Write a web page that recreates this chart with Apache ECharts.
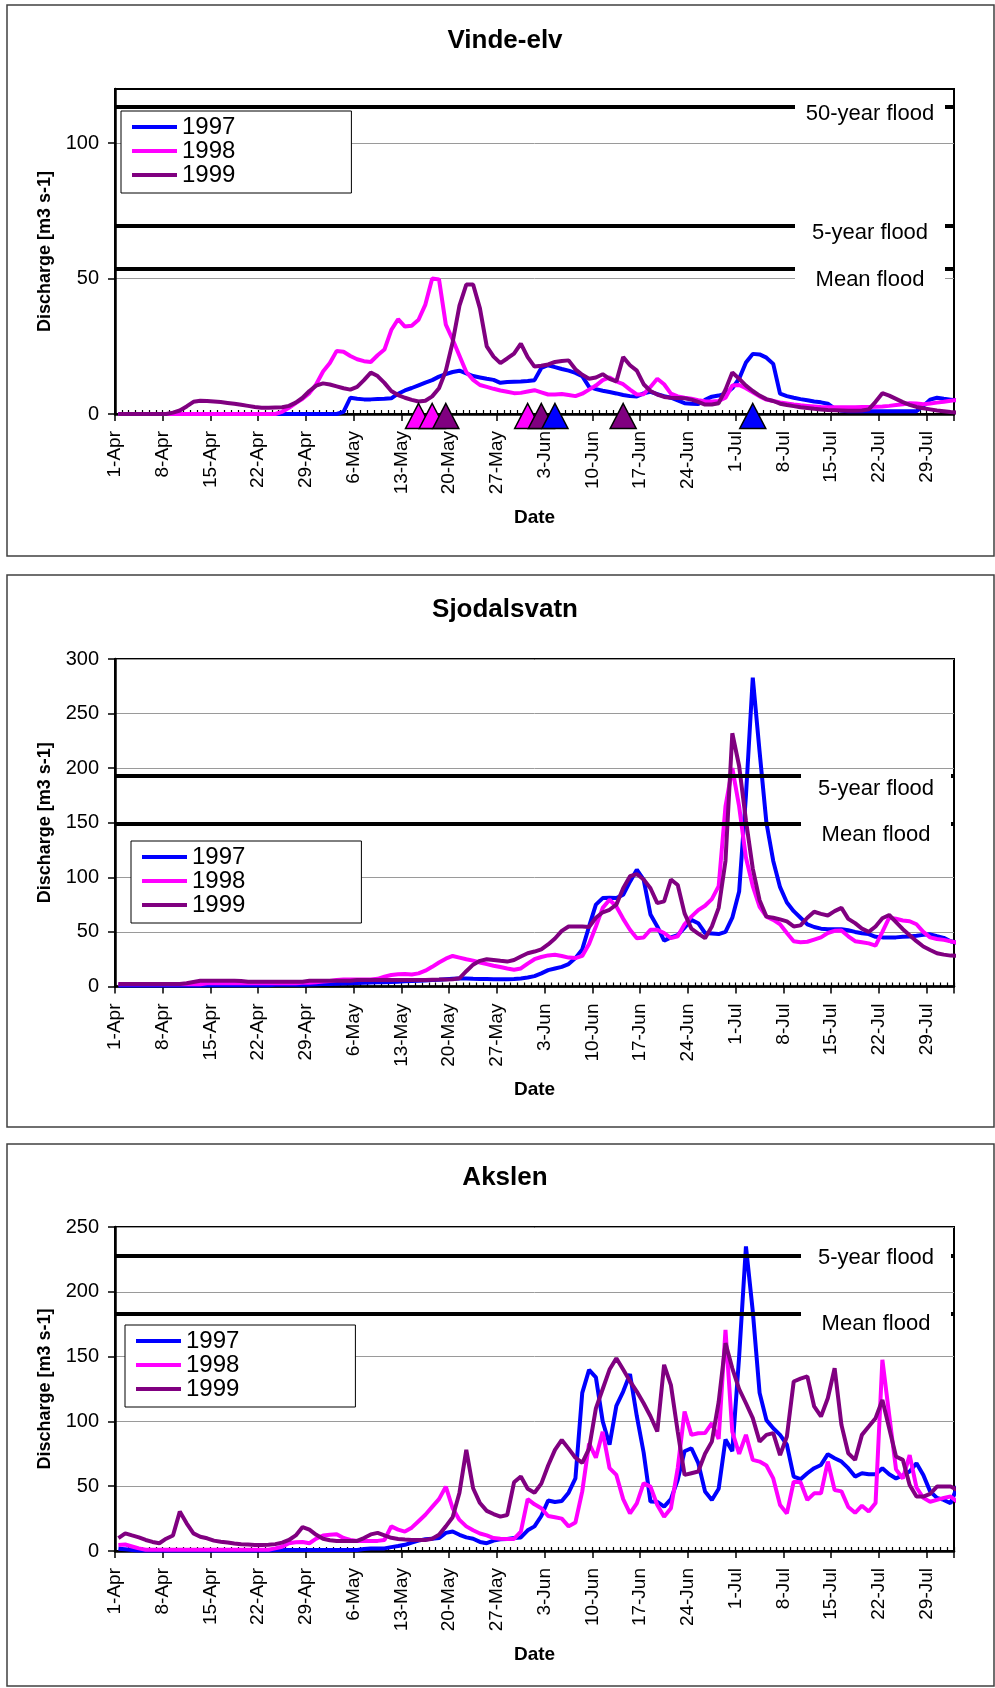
<!DOCTYPE html>
<html>
<head>
<meta charset="utf-8">
<title>Discharge 1997-1999</title>
<script src="https://cdn.jsdelivr.net/npm/echarts@6/dist/echarts.min.js"></script>
<style>
  html, body { margin: 0; padding: 0; background: #fff; }
  #chart { width: 995px; height: 1688px; }
</style>
</head>
<body>
<div id="chart"></div>
<script>
const FONT = '"Liberation Sans", Arial, sans-serif';

// weekly tick labels, one every 7 days from 1-Apr
const tickLabels = ['1-Apr', '8-Apr', '15-Apr', '22-Apr', '29-Apr', '6-May', '13-May', '20-May', '27-May',
  '3-Jun', '10-Jun', '17-Jun', '24-Jun', '1-Jul', '8-Jul', '15-Jul', '22-Jul', '29-Jul'];
const years = ['1997', '1998', '1999'];
const yearColors = ['#0000ff', '#ff00ff', '#800080'];

// daily mean discharge, index 0 = 1-Apr
const vindeQ1997 = [
  0, 0, 0, 0, 0, 0, 0, 0, 0, 0,
  0, 0, 0, 0, 0, 0, 0, 0, 0, 0,
  0, 0, 0, 0, 0, 0, 0, 0, 0, 0,
  0, 0, 0, 0.8, 6, 5.6, 5.4, 5.4, 5.5, 5.6,
  5.8, 7.5, 8.7, 9.6, 10.6, 11.6, 12.5, 13.8, 14.7, 15.5,
  16, 15, 14, 13.5, 13, 12.6, 11.5, 11.8, 11.9, 12,
  12.2, 12.5, 17, 18, 17.3, 16.6, 16, 15.2, 14, 10,
  9.2, 8.6, 8.1, 7.6, 7, 6.6, 6.5, 7.6, 8.2, 7.3,
  6.6, 6, 5, 4, 3.8, 3.7, 5.2, 6.4, 6.8, 7.5,
  9.5, 13, 19, 22.2, 22, 20.8, 18.5, 7.5, 6.6, 6,
  5.5, 5.1, 4.6, 4.3, 3.8, 2, 1.2, 1, 1, 1,
  1, 1, 1, 1, 1, 1, 1, 1, 3, 5.3,
  6, 5.6, 5.3, 5, 4.3
];
const vindeQ1998 = [
  0, 0, 0, 0, 0, 0, 0, 0, 0, 0,
  0, 0, 0, 0, 0, 0, 0, 0, 0, 0,
  0, 0, 0, 0, 0.8, 2.3, 4, 5.6, 7.7, 11,
  15.7, 18.8, 23.3, 23, 21.4, 20.2, 19.5, 19.2, 21.7, 23.8,
  31, 35, 32.3, 32.6, 34.8, 40.4, 50, 49.7, 33, 27.5,
  21.5, 15.5, 12.6, 10.7, 10, 9.3, 8.7, 8.2, 7.7, 7.8,
  8.3, 8.8, 8, 7.2, 7.2, 7.4, 7, 6.6, 7.5, 9,
  10.5, 12.5, 13.5, 12, 11, 9, 7.2, 7.3, 10, 13,
  11, 7.5, 6.5, 6, 5.6, 5.1, 4.7, 4.6, 4.8, 6,
  10.5, 10.7, 9.5, 8, 6.5, 5.3, 4.8, 4.3, 3.9, 3.5,
  3.2, 3, 2.8, 2.6, 2.5, 2.5, 2.5, 2.5, 2.5, 2.6,
  2.6, 2.7, 2.8, 3, 3.3, 3.6, 4, 3.9, 3.6, 3.9,
  4.2, 4.5, 4.9, 5.2, 4.4
];
const vindeQ1999 = [
  0, 0, 0, 0, 0, 0, 0, 0, 0.5, 1.3,
  2.8, 4.5, 4.9, 4.8, 4.6, 4.4, 4.1, 3.8, 3.4, 3,
  2.6, 2.3, 2.3, 2.4, 2.5, 3, 4.2, 6, 8.5, 10.5,
  11.3, 10.9, 10.2, 9.5, 9, 10, 12.5, 15.3, 14, 11.5,
  8.5, 7, 6, 5.2, 4.6, 4.9, 6.5, 9.5, 16, 26.5,
  40, 47.8, 47.8, 39, 25, 21.2, 18.8, 20.5, 22.3, 26,
  21, 17.5, 17.8, 18.3, 19.2, 19.6, 19.8, 16.5, 14.5, 13,
  13.5, 14.7, 13, 12, 21, 18, 16, 11, 8.5, 7.2,
  6.3, 6, 5.9, 5.8, 5.3, 4.5, 3.5, 3.5, 4, 9,
  15.3, 13, 10.5, 8.5, 6.8, 5.5, 4.8, 3.8, 3.3, 2.9,
  2.5, 2.2, 1.9, 1.7, 1.5, 1.4, 1.3, 1.2, 1.2, 1.3,
  1.7, 4.5, 7.7, 6.8, 5.6, 4.4, 3.4, 2.6, 2.1, 1.7,
  1.3, 1, 0.7, 0.5, 0.2
];

const sjoQ1997 = [
  1, 1, 1, 1, 1, 1, 1, 1, 1, 1,
  1, 1, 1, 1.2, 1.2, 1.2, 1.2, 1.2, 1.2, 1.2,
  1.2, 1.2, 1.2, 1.5, 1.5, 1.5, 1.5, 1.5, 1.8, 2,
  2.2, 2.4, 2.6, 2.8, 3, 3.2, 3.4, 3.6, 3.8, 4,
  4.2, 4.4, 4.7, 5, 5.3, 5.6, 5.9, 6.2, 6.6, 7,
  7.4, 7.4, 7.1, 6.9, 6.8, 6.7, 6.6, 6.6, 6.9, 7.4,
  8.3, 9.5, 12, 15, 16.5, 18, 20.5, 26, 34, 55,
  75, 81, 81.4, 81, 84, 96, 107, 98, 66, 55,
  42, 45, 47, 54, 61, 58, 49, 48.5, 48, 50,
  63, 87, 175, 283, 215, 150, 115, 91, 77, 69,
  63, 57, 54.5, 53, 52.5, 52.5, 52.5, 51.5, 50, 48.8,
  48, 45.5, 45, 45, 45, 45.5, 45.8, 46.5, 47.3, 47.8,
  46, 44.5, 41.5, 40
];
const sjoQ1998 = [
  2, 2, 2, 2, 2, 2, 2, 2, 2, 2,
  2, 2, 2, 3, 3, 3, 3, 3, 3, 3,
  3, 3, 3, 3, 3, 3, 3, 3.5, 3.5, 4,
  4.5, 5, 6, 6.5, 6.5, 6.5, 6.5, 6.5, 7, 9,
  10.5, 11.2, 11.5, 11, 12, 14.5, 18, 22, 25.5, 28,
  26.5, 25, 23.7, 22, 20.5, 19, 17.8, 16.5, 15.3, 16.5,
  21, 25, 27, 28.5, 29, 28, 26.5, 26, 28, 39,
  55, 72, 79.5, 73.3, 62, 52, 44.3, 44.9, 52, 52,
  49, 44.3, 46, 57, 64, 70, 74, 80, 92, 165,
  200, 165, 118, 92, 73, 64, 61, 57, 49, 41.5,
  40.5, 41, 43, 45, 49, 51, 51.3, 46, 41.5, 40.5,
  39.5, 37.5, 50, 63, 62, 60.5, 59.8, 57, 50, 45,
  43.5, 42.7, 41.5, 40
];
const sjoQ1999 = [
  2.3, 2.3, 2.3, 2.3, 2.3, 2.3, 2.3, 2.3, 2.3, 2.3,
  3, 4.2, 5.3, 5.3, 5.3, 5.3, 5.3, 5.3, 5, 4.4,
  4.4, 4.4, 4.4, 4.4, 4.4, 4.4, 4.4, 4.4, 5.3, 5.3,
  5.3, 5.3, 5.3, 5.3, 5.3, 6, 6, 6, 6, 6,
  6, 6, 6, 6, 6, 6, 6.2, 6.3, 6.5, 6.6,
  7.5, 14, 20, 23.5, 25, 24.3, 23.5, 22.8, 24.3, 27.5,
  30.5, 32, 34, 38.5, 44, 51, 55, 55, 55, 54.5,
  63, 68, 70.3, 75, 90, 101, 103, 98, 90, 76.4,
  78, 98, 93, 67, 53, 48.5, 44.3, 55, 72, 115,
  232, 202, 152, 108, 79, 64, 63, 61.5, 59.6, 55,
  56, 63, 68.5, 66.5, 65, 69, 72, 62, 58, 53,
  50, 55, 62.5, 65.5, 59, 52.5, 47, 41.5, 36.6, 33.5,
  30.5, 29.2, 28.3, 28
];

const akslenQ1997 = [
  1.8, 1.3, 0.8, 0.3, 0.3, 0.3, 0.3, 0.3, 0.3, 0.3,
  0.3, 0.3, 0.3, 0.3, 0.3, 0.3, 0.3, 0.3, 0.3, 0.3,
  0.3, 0.3, 0.3, 0.8, 0.8, 0.8, 0.8, 0.8, 0.8, 0.8,
  0.8, 0.8, 0.8, 0.8, 0.8, 0.8, 1.5, 2, 2, 2,
  3, 3.8, 4.8, 6.5, 8, 9, 9.5, 10, 14, 15,
  12.5, 10.5, 9.5, 7, 6, 8, 9, 9.3, 10, 10.5,
  16, 19, 27, 39, 37.8, 38.5, 45, 56, 122, 139.8,
  134, 100, 82, 112, 123, 136.5, 104, 76, 38.1, 38,
  34.2, 40, 55, 77, 79.3, 68, 46, 39.4, 48, 86,
  77, 150, 235, 185, 122, 101, 94.7, 89.6, 82, 57.4,
  55.4, 60, 63.9, 66.4, 74.7, 71.6, 69, 63.9, 57.4, 60,
  59.2, 59.2, 63.9, 59.2, 56, 58.5, 61.3, 67.7, 58.7, 46,
  41, 39.4, 36.8, 50
];
const akslenQ1998 = [
  4.6, 5, 3.5, 2, 1, 1, 1, 1, 1, 1,
  1, 1, 1, 1, 1, 1, 1, 1, 1, 1,
  1, 1, 1, 2, 3.3, 6, 6.8, 7, 6, 9.5,
  12, 12.5, 12.9, 10, 8.5, 7.7, 7.7, 7.7, 7.8, 8.5,
  19, 16.5, 15, 18, 23, 28, 34, 40, 49.7, 33,
  24, 19, 16, 13.5, 12, 10, 9.5, 9.3, 9.3, 15,
  40, 36, 33, 27, 26, 25, 19, 22, 46, 83,
  72, 92, 64, 58.7, 40, 29.1, 36.8, 52.3, 49.7, 35.5,
  26.5, 33, 64, 107.6, 89.6, 90.9, 91, 98.6, 86.5, 170.7,
  92, 75, 89.6, 70.3, 69, 66, 56, 35.5, 29, 53.5,
  53, 39.4, 44.5, 44.5, 69, 47, 46, 34, 29.5, 35,
  30.4, 37, 147.5, 105, 63, 56, 74, 49, 41, 38,
  39.5, 41, 42, 38
];
const akslenQ1999 = [
  10, 13.6, 12, 10.5, 8.5, 7, 6, 9.5, 12, 30.4,
  21.4, 13.6, 11, 9.8, 8, 7.2, 6.5, 5.8, 5.2, 5,
  4.7, 4.6, 4.8, 5.3, 6.5, 8.5, 12, 18.5, 16.5, 12.5,
  9.5, 8.3, 7.8, 7.7, 7.7, 7.8, 10, 12.8, 14, 12,
  10.2, 9.3, 8.8, 8.5, 8.5, 8.5, 9.5, 12.5, 19, 26,
  45, 78, 48.4, 37, 31, 28.5, 26.5, 27.8, 53, 57.5,
  48, 45, 52, 66, 78, 85.7, 79, 72, 68, 79,
  110, 125, 140, 148.8, 140, 131, 123, 114, 104, 92.2,
  143.7, 128, 92, 58.7, 60, 61.3, 75, 84.4, 115, 160.4,
  141, 125, 114, 102.5, 84.4, 89.6, 91, 74, 88.3, 130.8,
  133, 134.7, 111.5, 103.8, 117.9, 141, 97.3, 75.4, 70.3, 89.6,
  96, 102.5, 116.6, 94.7, 72.9, 70.3, 51, 42, 42, 44,
  49.7, 49.7, 49.7, 47
];

// ice break-up days (day index from 1-Apr) marked with triangles at Vinde-elv
const vindeBreakup1997 = [64, 93];
const vindeBreakup1998 = [44, 46, 60];
const vindeBreakup1999 = [48, 62, 74];

// flood levels
const vindeFloodNames = ['50-year flood', '5-year flood', 'Mean flood'];
const vindeFloodValues = [113.3, 69.6, 53.7];
const sjoFloodNames = ['5-year flood', 'Mean flood'];
const sjoFloodValues = [193, 149];
const akslenFloodNames = ['5-year flood', 'Mean flood'];
const akslenFloodValues = [228, 183];

const panels = [
  {
    title: 'Vinde-elv', yMax: 120, yTicks: [0, 50, 100],
    series: [vindeQ1997, vindeQ1998, vindeQ1999],
    breakups: [vindeBreakup1997, vindeBreakup1998, vindeBreakup1999],
    floodNames: vindeFloodNames, floodValues: vindeFloodValues,
    top: 5, bottom: 556, titleTop: 28, gridTop: 89, gridHeight: 325,
    legendLeft: 121, legendTop: 111, labelDy: [7, 7, 11], labelRight: 9, clip: false
  },
  {
    title: 'Sjodalsvatn', yMax: 300, yTicks: [0, 50, 100, 150, 200, 250, 300],
    series: [sjoQ1997, sjoQ1998, sjoQ1999],
    breakups: null,
    floodNames: sjoFloodNames, floodValues: sjoFloodValues,
    top: 575, bottom: 1127, titleTop: 597, gridTop: 659, gridHeight: 327.5,
    legendLeft: 131, legendTop: 841, labelDy: [13, 11], labelRight: 3, clip: true
  },
  {
    title: 'Akslen', yMax: 250, yTicks: [0, 50, 100, 150, 200, 250],
    series: [akslenQ1997, akslenQ1998, akslenQ1999],
    breakups: null,
    floodNames: akslenFloodNames, floodValues: akslenFloodValues,
    top: 1144, bottom: 1686, titleTop: 1165, gridTop: 1227, gridHeight: 324,
    legendLeft: 125, legendTop: 1325, labelDy: [2, 10], labelRight: 3, clip: true
  }
];

const DAYS = 123; // 1-Apr .. 2-Aug

const chart = echarts.init(document.getElementById('chart'));

const titles = [], legends = [], grids = [], overlayGrids = [], xMain = [], xMinor = [], yMain = [], yHidden = [], series = [], graphics = [];

panels.forEach(function (p, k) {
  graphics.push({
    type: 'rect', silent: true,
    shape: { x: 7, y: p.top, width: 987, height: p.bottom - p.top },
    style: { fill: 'none', stroke: '#404040', lineWidth: 1.5 }
  });

  titles.push({
    text: p.title, left: 505, top: p.titleTop, textAlign: 'center', padding: 0,
    textStyle: { fontSize: 26, fontWeight: 'bold', color: '#000', fontFamily: FONT }
  });

  legends.push({
    data: years, orient: 'vertical', left: p.legendLeft, top: p.legendTop,
    icon: 'rect', itemGap: 0, itemWidth: 45, itemHeight: 4, padding: [4, 116, 6, 11],
    backgroundColor: '#fff', borderColor: '#000', borderWidth: 1,
    selectedMode: false,
    textStyle: { fontSize: 24, lineHeight: 22, color: '#000', fontFamily: FONT }
  });

  const gridBox = { left: 115, top: p.gridTop, width: 839, height: p.gridHeight };
  grids.push(Object.assign({ show: true, borderColor: '#000', borderWidth: 2 }, gridBox));
  // overlay grid carrying the small daily ticks
  overlayGrids.push(Object.assign({ show: false }, gridBox));

  xMain.push({
    type: 'value', gridIndex: k, min: 0, max: DAYS, interval: 7,
    axisLine: { onZero: false, lineStyle: { color: '#000', width: 2.5 } },
    axisTick: { length: 7, lineStyle: { color: '#000', width: 1.5 } },
    axisLabel: {
      rotate: 90, margin: 17, fontSize: 19, color: '#000', fontFamily: FONT,
      formatter: function (v) { return v % 7 === 0 ? (tickLabels[v / 7] || '') : ''; }
    },
    splitLine: { show: false },
    name: 'Date', nameLocation: 'middle', nameGap: 94,
    nameTextStyle: { fontSize: 19, fontWeight: 'bold', color: '#000', fontFamily: FONT }
  });

  yMain.push({
    type: 'value', gridIndex: k, min: 0, max: p.yMax, interval: 50,
    axisLine: { show: true, lineStyle: { color: '#000', width: 2.5 } },
    axisTick: { show: true, length: 7, customValues: p.yTicks, lineStyle: { color: '#000', width: 1.5 } },
    axisLabel: { margin: 16, fontSize: 20, color: '#000', fontFamily: FONT, customValues: p.yTicks },
    splitLine: { show: true, lineStyle: { color: '#9a9a9a', width: 1 } },
    name: 'Discharge [m3 s-1]', nameLocation: 'middle', nameGap: 61,
    nameTextStyle: { fontSize: 18, fontWeight: 'bold', color: '#000', fontFamily: FONT }
  });

  xMinor.push({
    type: 'value', gridIndex: 3 + k, min: 0, max: DAYS, interval: 1,
    axisLine: { show: false },
    axisTick: { show: true, inside: true, length: 4, lineStyle: { color: '#000', width: 1.2 } },
    axisLabel: { show: false },
    splitLine: { show: false }
  });
  yHidden.push({ type: 'value', gridIndex: 3 + k, min: 0, max: 1, show: false });

  // flood levels
  series.push({
    type: 'line', name: 'flood' + k, xAxisIndex: k, yAxisIndex: k, data: [], z: 1, silent: true,
    markLine: {
      silent: true, symbol: ['none', 'none'], animation: false,
      lineStyle: { color: '#000', width: 4, type: 'solid' },
      emphasis: { disabled: true },
      label: {
        show: true, position: 'insideEnd', distance: [p.labelRight, 0],
        formatter: '{box|{b}}',
        rich: {
          box: {
            width: 150, align: 'center', backgroundColor: '#fff', padding: [6, 0],
            fontSize: 22, lineHeight: 22, color: '#000', fontFamily: FONT
          }
        }
      },
      data: p.floodNames.map(function (name, j) {
        return { name: name, yAxis: p.floodValues[j], label: { offset: [0, p.labelDy[j]] } };
      })
    }
  });

  // discharge, daily means plotted at midday
  years.forEach(function (y, s) {
    series.push({
      type: 'line', name: y, xAxisIndex: k, yAxisIndex: k,
      data: p.series[s].map(function (v, i) { return [i + 0.5, v]; }),
      symbol: 'none', showSymbol: false, clip: p.clip, z: 3,
      lineStyle: { color: yearColors[s], width: 4 },
      itemStyle: { color: yearColors[s] }
    });
  });

  if (p.breakups) {
    // draw 1998, 1999, then 1997 so later dates overlap earlier ones
    [1, 2, 0].forEach(function (s) {
      series.push({
        type: 'scatter', name: years[s] + ' break-up', xAxisIndex: k, yAxisIndex: k,
        data: p.breakups[s].map(function (d) { return [d + 0.5, 0]; }),
        symbol: 'triangle', symbolSize: [26, 25], symbolOffset: [0, 2], clip: false, z: 4, silent: true,
        itemStyle: { color: yearColors[s], borderColor: '#000', borderWidth: 1.5, opacity: 1 }
      });
    });
  }
});

chart.setOption({
  animation: false,
  backgroundColor: '#fff',
  textStyle: { fontFamily: FONT },
  title: titles,
  legend: legends,
  grid: grids.concat(overlayGrids),
  xAxis: xMain.concat(xMinor),
  yAxis: yMain.concat(yHidden),
  series: series,
  graphic: graphics
});
</script>
</body>
</html>
